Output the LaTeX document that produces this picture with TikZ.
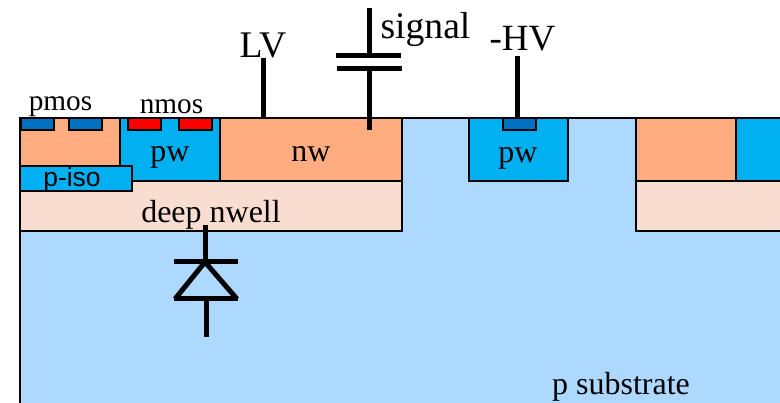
\documentclass[tikz,border=0pt]{standalone}
\usepackage{fontspec}
\setmainfont{Liberation Serif}
\newfontfamily\sansfont{Liberation Sans}
\definecolor{psubcol}{HTML}{ADD8FF}
\definecolor{nwcol}{HTML}{FFAD80}
\definecolor{dnwcol}{HTML}{F8DDD0}
\definecolor{pwcol}{HTML}{00B0F0}
\definecolor{pmoscol}{HTML}{0070C0}
\tikzset{
  well/.style={draw=black,line width=1.5pt},
  wire/.style={line width=5pt,draw=black},
  lbl/.style={inner sep=0pt,font=\fontsize{32}{34}\selectfont},
  smalllbl/.style={inner sep=0pt,font=\fontsize{29.3}{31}\selectfont},
  biglbl/.style={inner sep=0pt,font=\fontsize{37}{39}\selectfont},
}
\begin{document}
\begin{tikzpicture}[x=1pt,y=-1pt]%
\useasboundingbox (0,0) rectangle (780,403);
% substrate
\fill[psubcol] (20,118) rectangle (780,403);
\draw[well] (20,403) -- (20,118) -- (780,118);
% deep nwell
\draw[well,fill=dnwcol] (20,181) rectangle (402,231);
\draw[well,fill=dnwcol] (636,181) rectangle (785,231);
% wells
\draw[well,fill=nwcol] (20,118) rectangle (120,181);
\draw[well,fill=pwcol] (120,118) rectangle (220,181);
\draw[well,fill=nwcol] (220,118) rectangle (402,181);
\draw[well,fill=pwcol] (469,118) rectangle (568,181);
\draw[well,fill=nwcol] (636,118) rectangle (736,181);
\draw[well,fill=pwcol] (736,118) rectangle (785,181);
\draw[well,fill=pwcol] (20,166) rectangle (132,191);
% implants
\draw[well,fill=pmoscol] (21,118) rectangle (54,130);
\draw[well,fill=pmoscol] (69,118) rectangle (102,130);
\draw[well,fill=red] (128,118) rectangle (161,130);
\draw[well,fill=red] (179,118) rectangle (212,130);
\draw[well,fill=pmoscol] (503,118) rectangle (536,130);
% labels
\node[smalllbl] (pmos) at (60.5,107) {pmos};
\node[smalllbl] (nmos) at (171.5,107) {nmos};
\node[lbl] (pwa) at (170,157) {pw};
\node[lbl] (nwa) at (311,154) {nw};
\node[lbl] (pwb) at (518,158) {pw};
\node[inner sep=0pt,font=\sansfont\fontsize{26.5}{28}\selectfont] (piso) at (72,180) {p-iso};
\node[lbl] (dnw) at (211,215) {deep nwell};
\node[lbl] (psub) at (621,387) {p substrate};
\node[inner sep=0pt,font=\fontsize{37.6}{40}\selectfont] (lv) at (263,45) {LV};
\node[inner sep=0pt,font=\fontsize{37.6}{40}\selectfont] (signal) at (425.5,30) {signal};
\node[biglbl] (hv) at (522.5,39) {-HV};
% contacts
\coordinate (lvtop) at (263,58);
\coordinate (lvbot) at (263,118);
\coordinate (sigtop) at (369,8);
\coordinate (sigup) at (369,55);
\coordinate (sigdn) at (369,68);
\coordinate (sigbot) at (369,130);
\coordinate (hvtop) at (517,56);
\coordinate (hvbot) at (517,118);
\draw[wire] (lvtop) -- (lvbot);
\draw[wire] (sigtop) -- (sigup);
\draw[wire] (sigdn) -- (sigbot);
\draw[wire] (336,55.5) -- (401,55.5);
\draw[wire] (337,68.5) -- (402,68.5);
\draw[wire] (hvtop) -- (hvbot);
% diode
\coordinate (dtop) at (205,225);
\coordinate (dtip) at (205,262);
\coordinate (dbase) at (206,299);
\coordinate (dbot) at (206,337);
\draw[wire] (dtop) -- (dtip);
\draw[wire] (174,262) -- (238,262);
\draw[wire,line join=round] (175,299) -- (dtip) -- (237,299);
\draw[wire] (174,299) -- (238,299);
\draw[wire] (dbase) -- (dbot);
\end{tikzpicture}
\end{document}
